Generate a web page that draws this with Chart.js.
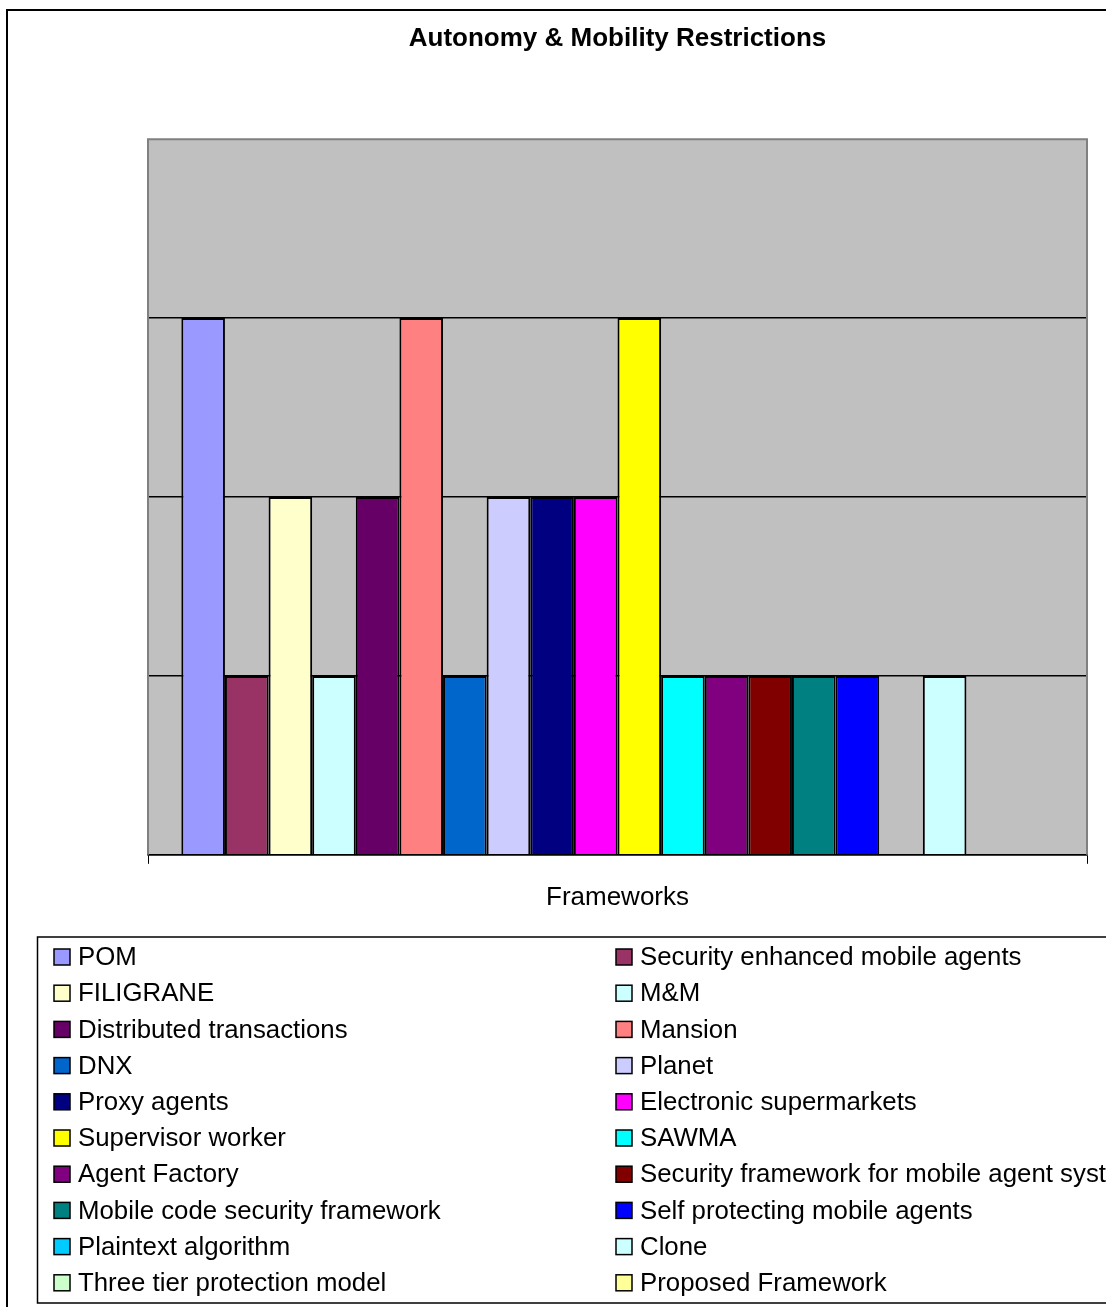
<!DOCTYPE html>
<html>
<head>
<meta charset="utf-8">
<title>Autonomy & Mobility Restrictions</title>
<script src="https://cdn.jsdelivr.net/npm/chart.js@4.4.1/dist/chart.umd.min.js"></script>
<style>
  html, body { margin: 0; padding: 0; background: #fff; overflow: hidden; }
  canvas { display: block; }
</style>
</head>
<body>
<canvas id="barChart" width="1106" height="1307"></canvas>
<script>
// data
const categories = ['Frameworks'];
const frameworks = [
  'POM', 'Security enhanced mobile agents', 'FILIGRANE', 'M&M',
  'Distributed transactions', 'Mansion', 'DNX', 'Planet',
  'Proxy agents', 'Electronic supermarkets', 'Supervisor worker', 'SAWMA',
  'Agent Factory', 'Security framework for mobile agent systems',
  'Mobile code security framework', 'Self protecting mobile agents',
  'Plaintext algorithm', 'Clone', 'Three tier protection model', 'Proposed Framework'
];
const restrictions = [3, 1, 2, 1, 2, 3, 1, 2, 2, 2, 3, 1, 1, 1, 1, 1, 0, 1, 0, 0];
const seriesColors = [
  '#9999FF', '#993366', '#FFFFCC', '#CCFFFF', '#660066', '#FF8080', '#0066CC', '#CCCCFF',
  '#000080', '#FF00FF', '#FFFF00', '#00FFFF', '#800080', '#800000', '#008080', '#0000FF',
  '#00CCFF', '#CCFFFF', '#CCFFCC', '#FFFF99'
];
const yTicks = [0, 1, 2, 3, 4];

const FONT = 'Arial, "Liberation Sans", sans-serif';

const datasets = frameworks.map((name, i) => ({
  label: name,
  data: [restrictions[i]],
  backgroundColor: seriesColors[i],
  borderColor: '#000',
  borderWidth: 2
}));

// gray plot area + frame, outer chart border, excel style legend
const excelLook = {
  id: 'excelLook',
  beforeDraw(chart) {
    const { ctx, chartArea: a } = chart;
    ctx.save();
    ctx.fillStyle = '#C0C0C0';
    ctx.fillRect(a.left, a.top, a.right - a.left, a.bottom - a.top);
    ctx.restore();
  },
  beforeDatasetsDraw(chart) {
    const { ctx, chartArea: a } = chart;
    ctx.save();
    ctx.strokeStyle = '#808080';
    ctx.lineWidth = 2;
    ctx.beginPath();
    ctx.moveTo(a.left, a.bottom);
    ctx.lineTo(a.left, a.top);
    ctx.lineTo(a.right, a.top);
    ctx.lineTo(a.right, a.bottom);
    ctx.stroke();
    ctx.restore();
  },
  afterDraw(chart) {
    const ctx = chart.ctx;
    const W = chart.width;
    ctx.save();
    // outer border (right and bottom edges fall outside the picture)
    ctx.strokeStyle = '#000';
    ctx.lineWidth = 2;
    ctx.beginPath();
    ctx.moveTo(7, chart.height);
    ctx.lineTo(7, 10);
    ctx.lineTo(W, 10);
    ctx.stroke();

    // legend box
    ctx.lineWidth = 1.5;
    ctx.beginPath();
    ctx.moveTo(W, 937);
    ctx.lineTo(37.5, 937);
    ctx.lineTo(37.5, 1303);
    ctx.lineTo(W, 1303);
    ctx.stroke();

    ctx.font = '25.8px ' + FONT;
    ctx.textBaseline = 'middle';
    chart.data.datasets.forEach((ds, i) => {
      const col = i % 2, row = Math.floor(i / 2);
      const mx = col === 0 ? 54 : 616;
      const cy = 957 + row * 36.2;
      ctx.fillStyle = ds.backgroundColor;
      ctx.fillRect(mx, cy - 8, 16, 16);
      ctx.strokeStyle = '#000';
      ctx.lineWidth = 1.5;
      ctx.strokeRect(mx, cy - 8, 16, 16);
      ctx.fillStyle = '#000';
      ctx.fillText(ds.label, mx + 24, cy + 1);
    });
    ctx.restore();
  }
};

new Chart(document.getElementById('barChart').getContext('2d'), {
  type: 'bar',
  data: { labels: categories, datasets },
  options: {
    responsive: false,
    animation: false,
    datasets: { bar: { categoryPercentage: 0.929, barPercentage: 1 } },
    layout: { padding: { left: 148, right: 19, top: 0, bottom: 376 } },
    plugins: {
      legend: { display: false },
      tooltip: { enabled: false },
      title: {
        display: true,
        text: 'Autonomy & Mobility Restrictions',
        color: '#000',
        font: { family: FONT, size: 26, weight: 'bold' },
        padding: { top: 23, bottom: 85 }
      }
    },
    scales: {
      x: {
        grid: { drawOnChartArea: false, drawTicks: true, tickLength: 9, color: '#000', offset: true },
        border: { display: true, color: '#000', width: 1.5 },
        ticks: { color: '#000', font: { family: FONT, size: 26 }, padding: 18 }
      },
      y: {
        min: yTicks[0],
        max: yTicks[yTicks.length - 1],
        afterBuildTicks: axis => { axis.ticks = yTicks.map(v => ({ value: v })); },
        ticks: { display: false },
        border: { display: false },
        grid: {
          drawTicks: false,
          lineWidth: 1.5,
          color: c => (c.tick.value === yTicks[yTicks.length - 1] ? 'rgba(0,0,0,0)' : '#000')
        }
      }
    }
  },
  plugins: [excelLook]
});
</script>
</body>
</html>
